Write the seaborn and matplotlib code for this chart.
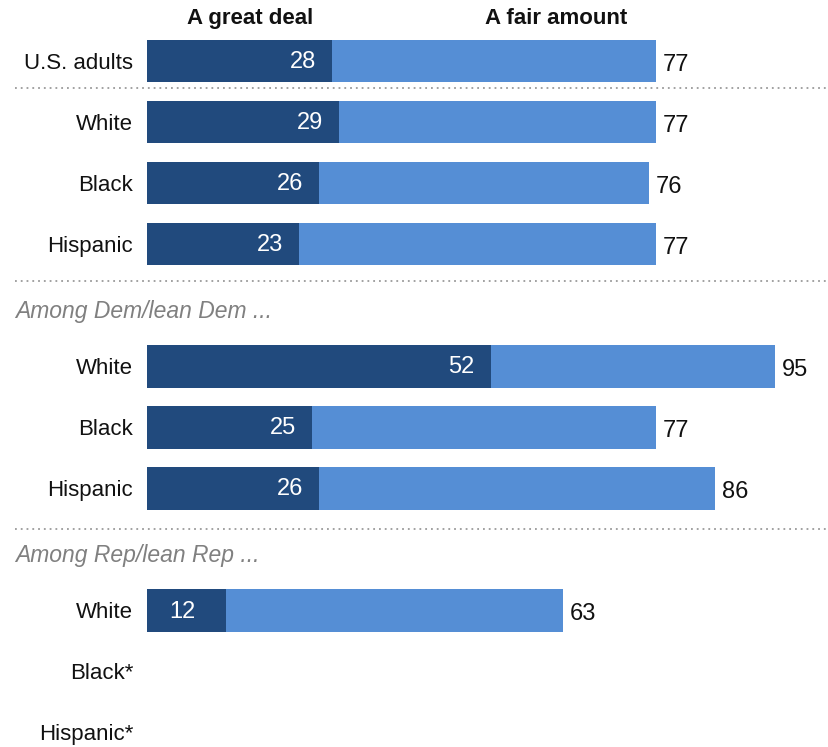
import numpy as np
import pandas as pd
import matplotlib
matplotlib.use("Agg")
import matplotlib.pyplot as plt
import matplotlib.transforms as mtransforms
import seaborn as sns

# Share who say they trust ... "a great deal" and total (great deal + fair amount)
groups = ["U.S. adults", "White", "Black", "Hispanic",
          "White", "Black", "Hispanic",
          "White", "Black*", "Hispanic*"]
segments = ["all", "all", "all", "all",
            "dem", "dem", "dem",
            "rep", "rep", "rep"]
great_deal = [28, 29, 26, 23, 52, 25, 26, 12, np.nan, np.nan]
total = [77, 77, 76, 77, 95, 77, 86, 63, np.nan, np.nan]

section_titles = {"dem": "Among Dem/lean Dem ...", "rep": "Among Rep/lean Rep ..."}
col_titles = ["A great deal", "A fair amount"]

DARK = "#214a7d"
LIGHT = "#558ed5"
GREY_TXT = "#808080"
FONT = "Liberation Sans"

sns.set_theme(style="white")
plt.rcParams["font.family"] = [FONT, "DejaVu Sans"]

# Build slot order: section header rows get an empty slot of their own
rows = []
prev = None
for g, s, gd, t in zip(groups, segments, great_deal, total):
    if s != prev and s in section_titles:
        rows.append(dict(key=f"hdr_{s}", label="", great=np.nan, total=np.nan, header=section_titles[s]))
    rows.append(dict(key=f"{s}_{g}", label=g, great=gd, total=t, header=None))
    prev = s
df = pd.DataFrame(rows)
order = list(df["key"])

fig = plt.figure(figsize=(8.29, 7.47), dpi=100)
W, H = 829, 747
ax = fig.add_axes([147 / W, 0, (W - 147) / W, 1])

sns.barplot(data=df, x="total", y="key", order=order, color=LIGHT, saturation=1,
            width=0.70, errorbar=None, linewidth=0, ax=ax)
sns.barplot(data=df, x="great", y="key", order=order, color=DARK, saturation=1,
            width=0.70, errorbar=None, linewidth=0, ax=ax)

xmax = (W - 147) / 6.61
ax.set_xlim(0, xmax)
ax.set_ylim(11.24, -1.0)
for sp in ax.spines.values():
    sp.set_visible(False)
ax.set_xticks([])
ax.set_xlabel("")
ax.set_ylabel("")
ax.set_yticks(range(len(order)))
ax.set_yticklabels(df["label"], fontsize=16, color="#111111")
ax.tick_params(axis="y", length=0, pad=10)

# Value labels
for i, r in df.iterrows():
    if np.isnan(r["great"]):
        continue
    g, t = r["great"], r["total"]
    if g < 15:
        ax.text(g / 2 - 0.7, i + 0.02, f"{g:.0f}", color="white", fontsize=17,
                ha="center", va="center")
    else:
        ax.text(g - 2.4, i + 0.02, f"{g:.0f}", color="white", fontsize=17,
                ha="right", va="center")
    ax.text(t + 1.0, i + 0.06, f"{t:.0f}", color="#111111", fontsize=17,
            ha="left", va="center")

# Section titles and dotted separators
trans = mtransforms.blended_transform_factory(fig.transFigure, ax.transData)
for i, r in df.iterrows():
    if r["header"]:
        ax.text(15 / W, i + 0.11, r["header"], transform=trans, fontsize=16.5,
                style="italic", color=GREY_TXT, ha="left", va="center")

sep_positions = [0.44, 3.61, 7.67]
for y in sep_positions:
    ax.plot([15 / W, 1.0], [y, y], transform=trans, color="#9a9a9a",
            linestyle=(0, (1, 2.2)), linewidth=1.3, clip_on=False)

# Column titles
ax.text(15.6, -0.69, col_titles[0], fontsize=16, fontweight="bold",
        ha="center", va="center", color="#111111")
ax.text(61.9, -0.69, col_titles[1], fontsize=16, fontweight="bold",
        ha="center", va="center", color="#111111")

fig.savefig("out.png", dpi=100)
